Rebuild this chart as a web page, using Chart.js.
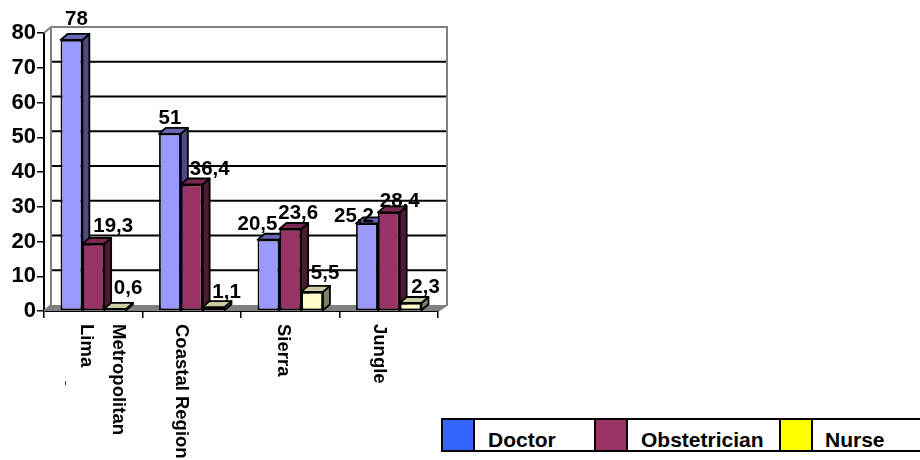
<!DOCTYPE html>
<html>
<head>
<meta charset="utf-8">
<script src="https://cdn.jsdelivr.net/npm/chart.js@4"></script>
<style>
html,body{margin:0;padding:0;background:#fff;overflow:hidden}
#wrap{position:relative;width:920px;height:460px}
canvas{position:absolute;left:0;top:0}
#legend{position:absolute;left:441px;top:418px;width:479px;height:30px;border:2px solid #000;border-right:none;display:flex;font:bold 21px "Liberation Sans",Arial,sans-serif;color:#000;background:#fff}
#legend .sw{height:30px;border-right:2px solid #000;box-sizing:content-box}
#legend .tx{height:30px;line-height:40px;box-sizing:border-box;white-space:nowrap}
</style>
</head>
<body>
<div id="wrap"><canvas id="c" width="920" height="460"></canvas><div id="legend"></div></div>
<script>
const categories = [['Metropolitan', 'Lima'], 'Coastal Region', 'Sierra', 'Jungle'];
const seriesNames = ['Doctor', 'Obstetrician', 'Nurse'];
const doctor = [78, 51, 20.5, 25.2];
const obstetrician = [19.3, 36.4, 23.6, 28.4];
const nurse = [0.6, 1.1, 5.5, 2.3];
const yTicks = [0, 10, 20, 30, 40, 50, 60, 70, 80];
const barColors = ['#9999ff', '#993366', '#ffffcc'];
const topColors = ['#6666b3', '#7a2952', '#cccca3'];
const sideColors = ['#4c4c80', '#4d1a33', '#808066'];
const legendColors = ['#3366ff', '#993366', '#ffff00'];

const FONT = '"Liberation Sans", Arial, sans-serif';
const DEPTH_X = 7, DEPTH_Y = 6;
// hand placement of the value labels, relative to the top centre of each bar
const nudgeX = [[5, 0, -11, -13], [20, 18, 8, 11], [13, 13, 13, 15]];
const nudgeY = [[-21, -15, -15, -7], [-18, -15, -16, -11], [-21, -15, -19, -16]];
// category label placement relative to the tick centre
const catShift = [25, -11, -7, -10];

const scene3d = {
  id: 'scene3d',
  beforeDatasetsDraw(chart) {
    const ctx = chart.ctx, a = chart.chartArea, y = chart.scales.y;
    const wallRight = a.right + 9;
    ctx.save();
    // floor
    ctx.fillStyle = '#808080';
    ctx.beginPath();
    ctx.moveTo(a.left, a.bottom);
    ctx.lineTo(a.left + DEPTH_X, a.bottom - DEPTH_Y);
    ctx.lineTo(wallRight, a.bottom - DEPTH_Y);
    ctx.lineTo(a.right, a.bottom);
    ctx.closePath();
    ctx.fill();
    // gridlines on the back wall
    ctx.strokeStyle = '#000';
    ctx.lineWidth = 1.8;
    yTicks.forEach(v => {
      if (v === 0 || v === 80) return;
      const p = y.getPixelForValue(v);
      ctx.beginPath();
      ctx.moveTo(a.left + DEPTH_X, p - DEPTH_Y);
      ctx.lineTo(wallRight, p - DEPTH_Y);
      ctx.stroke();
    });
    // wall frame
    ctx.strokeStyle = '#808080';
    ctx.lineWidth = 2;
    ctx.beginPath();
    ctx.moveTo(a.left, a.top);
    ctx.lineTo(a.left + DEPTH_X, a.top - DEPTH_Y);
    ctx.lineTo(wallRight, a.top - DEPTH_Y);
    ctx.lineTo(wallRight, a.bottom - DEPTH_Y);
    ctx.lineTo(a.right, a.bottom);
    ctx.moveTo(a.left + DEPTH_X, a.top - DEPTH_Y);
    ctx.lineTo(a.left + DEPTH_X, a.bottom - DEPTH_Y);
    ctx.lineTo(a.left, a.bottom);
    ctx.stroke();
    // bars with extruded faces
    ctx.strokeStyle = '#000';
    ctx.lineJoin = 'round';
    ctx.lineWidth = 1.8;
    chart.data.datasets.forEach((ds, d) => {
      chart.getDatasetMeta(d).data.forEach(bar => {
        const l = bar.x - bar.width / 2, r = bar.x + bar.width / 2, t = bar.y, b = bar.base;
        ctx.fillStyle = sideColors[d];
        ctx.beginPath();
        ctx.moveTo(r, t); ctx.lineTo(r + DEPTH_X, t - DEPTH_Y);
        ctx.lineTo(r + DEPTH_X, b - DEPTH_Y); ctx.lineTo(r, b);
        ctx.closePath(); ctx.fill(); ctx.stroke();
        ctx.fillStyle = topColors[d];
        ctx.beginPath();
        ctx.moveTo(l, t); ctx.lineTo(l + DEPTH_X, t - DEPTH_Y);
        ctx.lineTo(r + DEPTH_X, t - DEPTH_Y); ctx.lineTo(r, t);
        ctx.closePath(); ctx.fill(); ctx.stroke();
        bar.draw(ctx);
      });
    });
    // value labels
    ctx.fillStyle = '#000';
    ctx.font = 'bold 20.5px ' + FONT;
    ctx.textAlign = 'center';
    ctx.textBaseline = 'middle';
    chart.data.datasets.forEach((ds, d) => {
      chart.getDatasetMeta(d).data.forEach((bar, i) => {
        const text = String(ds.data[i]).replace('.', ',');
        ctx.fillText(text, bar.x + nudgeX[d][i], bar.y + nudgeY[d][i]);
      });
    });
    // stray speck under the first category label in the source picture
    ctx.fillStyle = '#333';
    ctx.fillRect(65, 381, 1, 4);
    ctx.restore();
    return false;
  }
};

function patchLabels(scale) {
  if (scale._patched) return;
  scale._patched = true;
  const orig = scale._computeLabelItems;
  scale._computeLabelItems = function (area) {
    const items = orig.call(this, area);
    items.forEach((it, i) => {
      it.options.textAlign = 'left';
      it.options.translation[0] += catShift[i];
    });
    return items;
  };
}

new Chart(document.getElementById('c'), {
  type: 'bar',
  data: {
    labels: categories,
    datasets: [doctor, obstetrician, nurse].map((values, i) => ({
      label: seriesNames[i],
      data: values,
      backgroundColor: barColors[i],
      borderColor: '#000',
      borderWidth: 1.8,
      borderSkipped: false,
      categoryPercentage: 0.664,
      barPercentage: 1
    }))
  },
  options: {
    responsive: false,
    animation: false,
    events: [],
    layout: { autoPadding: false, padding: { top: 33, right: 482, left: 0, bottom: 0 } },
    plugins: { legend: { display: false }, tooltip: { enabled: false }, title: { display: false } },
    scales: {
      x: {
        beforeUpdate: patchLabels,
        afterFit(s) { s.height = 149; },
        grid: { drawOnChartArea: false, color: '#000', lineWidth: 1.5, tickLength: 7 },
        border: { color: '#000', width: 2 },
        ticks: {
          autoSkip: false,
          minRotation: -90,
          maxRotation: -90,
          padding: 6,
          color: '#000',
          font: c => ({ family: FONT, size: 18.5, weight: 'bold', lineHeight: c.index === 0 ? '32px' : '14px' })
        }
      },
      y: {
        min: 0,
        max: 80,
        afterFit(s) { s.width = 44; },
        afterBuildTicks(s) { s.ticks = yTicks.map(value => ({ value })); },
        grid: { drawOnChartArea: false, color: '#000', lineWidth: 1.5, tickLength: 7 },
        border: { color: '#000', width: 2 },
        ticks: { padding: 1, color: '#000', font: { family: FONT, size: 22, weight: 'bold' } }
      }
    }
  },
  plugins: [scene3d]
});

// legend strip
const widths = [[30, 119], [30, 151], [30, 109]];
const pads = [13, 13, 12];
const legend = document.getElementById('legend');
seriesNames.forEach((name, i) => {
  const sw = document.createElement('div');
  sw.className = 'sw';
  sw.style.width = widths[i][0] + 'px';
  sw.style.background = legendColors[i];
  sw.style.borderLeft = i ? '2px solid #000' : 'none';
  const tx = document.createElement('div');
  tx.className = 'tx';
  tx.style.width = widths[i][1] + 'px';
  tx.style.paddingLeft = pads[i] + 'px';
  tx.textContent = name;
  legend.appendChild(sw);
  legend.appendChild(tx);
});
</script>
</body>
</html>
